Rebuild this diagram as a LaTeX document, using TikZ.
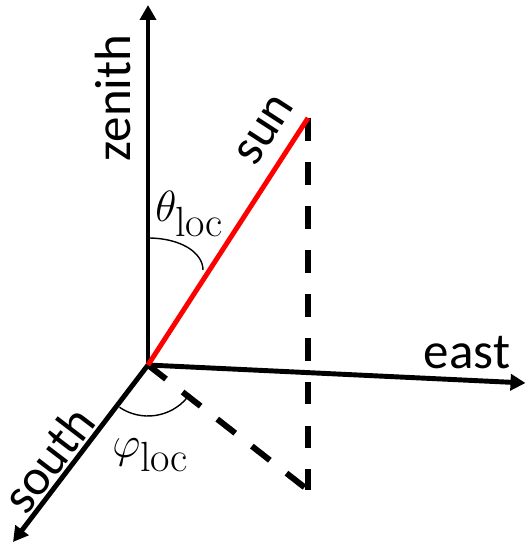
\documentclass[tikz,border=0pt]{standalone}
\usepackage{amsmath}
\usepackage{fontspec}
\setsansfont{Carlito}
\usetikzlibrary{arrows.meta}
\DeclareMathSizes{30}{30}{24}{18}

\begin{document}
\begin{tikzpicture}[>={Triangle[length=0.3cm, width=0.32cm]},
    axis/.style={->, line width=2.8pt, black},
    sunray/.style={-, line width=2.8pt, red},
    proj/.style={-, line width=3.4pt, black, dash pattern=on 13pt off 12pt},
    anglearc/.style={-, line width=0.8pt, black},
    dirlabel/.style={font=\sffamily\fontsize{29}{35}\selectfont, inner sep=0pt},
    anglabel/.style={font=\fontsize{30}{36}\selectfont, inner sep=0pt, anchor=base west},
]

\useasboundingbox (-2.96, -3.7) rectangle (7.58, 7.3);

% --- Coordenadas ---
\def\xsun{3.2}
\def\ysun{4.94}
\def\yfoot{-2.5}

\coordinate (O)       at (0, 0);
\coordinate (zen_tip) at (0, 7.2);
\coordinate (east_tip) at (7.55, -0.36);
\coordinate (south_tip) at (-2.7, -3.54);
\coordinate (sun)     at (\xsun, \ysun);
\coordinate (foot)    at (\xsun, \yfoot);

% --- Ejes ---
\draw[axis] (O) -- (zen_tip);
\draw[axis] (O) -- (east_tip);
\draw[axis] (O) -- (south_tip);

% --- Proyecciones ---
\draw[proj] (sun) -- (foot);
\draw[proj] (O) -- (foot);

% --- Rayo del sol ---
\draw[sunray] (O) -- (sun);

% --- Angulos ---
\coordinate (th_a) at (0, 2.54);
\coordinate (th_b) at (1.1, 1.9);
\draw[anglearc] (th_a) .. controls (0.65, 2.54) and (1.1, 2.25) .. (th_b);
\draw[anglearc] (O) ++(236:1.02) arc[start angle=236, end angle=320, radius=1.02];

% --- Textos ---
\node[dirlabel, rotate=90] (zen_lbl) at (-0.7, 5.34) {zenith};
\node[dirlabel, rotate=57] (sun_lbl) at (2.34, 4.7) {sun};
\node[dirlabel] (east_lbl) at (6.38, 0.24) {east};
\node[dirlabel, rotate=52.7] (south_lbl) at (-2.0, -1.88) {south};
\node[anglabel] (th_lbl) at (0.14, 2.86) {$\theta_{\mathrm{loc}}$};
\node[anglabel] (ph_lbl) at (-0.72, -1.84) {$\varphi_{\mathrm{loc}}$};

\end{tikzpicture}
\end{document}
